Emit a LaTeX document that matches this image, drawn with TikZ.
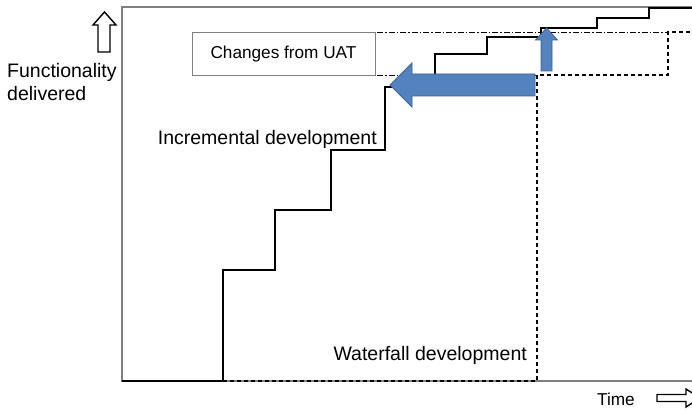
\documentclass[tikz,border=0pt]{standalone}
\usepackage{fontspec}
\setmainfont{Liberation Sans}
\definecolor{frame}{RGB}{128,128,128}
\definecolor{bluefill}{RGB}{84,130,190}
\definecolor{blueedge}{RGB}{60,100,150}
\tikzset{
  framelin/.style={draw=frame, line width=1.6pt},
  stair/.style={draw=black, line width=2pt},
  wfall/.style={draw=black, line width=2pt, dash pattern=on 4pt off 3pt},
  guide/.style={draw=black, line width=0.9pt, dash pattern=on 6pt off 2pt on 1.5pt off 2pt},
  bigtxt/.style={font=\fontsize{19.5}{22}\selectfont, inner sep=0pt},
  smalltxt/.style={font=\fontsize{17.2}{20}\selectfont, inner sep=0pt},
  bluearrow/.style={fill=bluefill, draw=blueedge, line width=0.8pt},
  hollowarrow/.style={draw=black, line width=1.4pt, fill=white},
  uatbox/.style={draw=frame, line width=1pt, minimum width=183pt, minimum height=43pt, inner sep=0pt, font=\fontsize{17.2}{20}\selectfont}
}
\begin{document}
\begin{tikzpicture}[x=1pt,y=-1pt]
\useasboundingbox (0,0) rectangle (692,409);
% frame
\draw[framelin] (692,7) -- (122,7) -- (122,381) -- (692,381);
% guide lines (dash dot)
\coordinate (g1a) at (377,32);
\coordinate (g1b) at (668,32);
\coordinate (g2a) at (377,75);
\coordinate (g2b) at (537,75);
\draw[guide] (g1a) -- (g1b);
\draw[guide] (g2a) -- (g2b);
% waterfall
\coordinate (w0) at (223,381);
\coordinate (w1) at (537,381);
\coordinate (w2) at (537,75);
\coordinate (w3) at (668,75);
\coordinate (w4) at (668,32);
\coordinate (w5) at (693,32);
\draw[wfall] (w0) -- (w1) -- (w2) -- (w3) -- (w4) -- (w5);
% incremental staircase
\draw[stair] (122,381) -- (223,381) -- (223,270) -- (275,270) -- (275,210) -- (331,210) -- (331,150) -- (385,150) -- (385,87) -- (435,87) -- (435,54) -- (487,54) -- (487,37) -- (541,37) -- (541,28) -- (597,28) -- (597,18) -- (649,18) -- (649,8.5) -- (693,8.5);
% blue arrows
\draw[bluearrow] (535,74) -- (412,74) -- (412,63) -- (390,85) -- (412,107) -- (412,96) -- (535,96) -- cycle;
\draw[bluearrow] (541,71) -- (541,40) -- (535.5,40) -- (546.5,28) -- (557.5,40) -- (552,40) -- (552,71) -- cycle;
% box
\node[uatbox] (uat) at (283.5,54.5) {Changes from UAT};
% labels
\node[bigtxt, anchor=base west] (func) at (7,78) {Functionality};
\node[bigtxt, anchor=base west] (deliv) at (7,100) {delivered};
\node[bigtxt, anchor=base east] (incr) at (377,144) {Incremental development};
\node[bigtxt, anchor=base east] (wat) at (527,360) {Waterfall development};
\node[smalltxt, anchor=base west] (time) at (597,405) {Time};
% axis arrows (hollow)
\draw[hollowarrow] (98,52) -- (98,25) -- (93,25) -- (104.5,12) -- (116,25) -- (110,25) -- (110,52) -- cycle;
\draw[hollowarrow] (657,394.5) -- (686,394.5) -- (686,389) -- (700,398) -- (686,407) -- (686,401.5) -- (657,401.5) -- cycle;
\end{tikzpicture}
\end{document}
